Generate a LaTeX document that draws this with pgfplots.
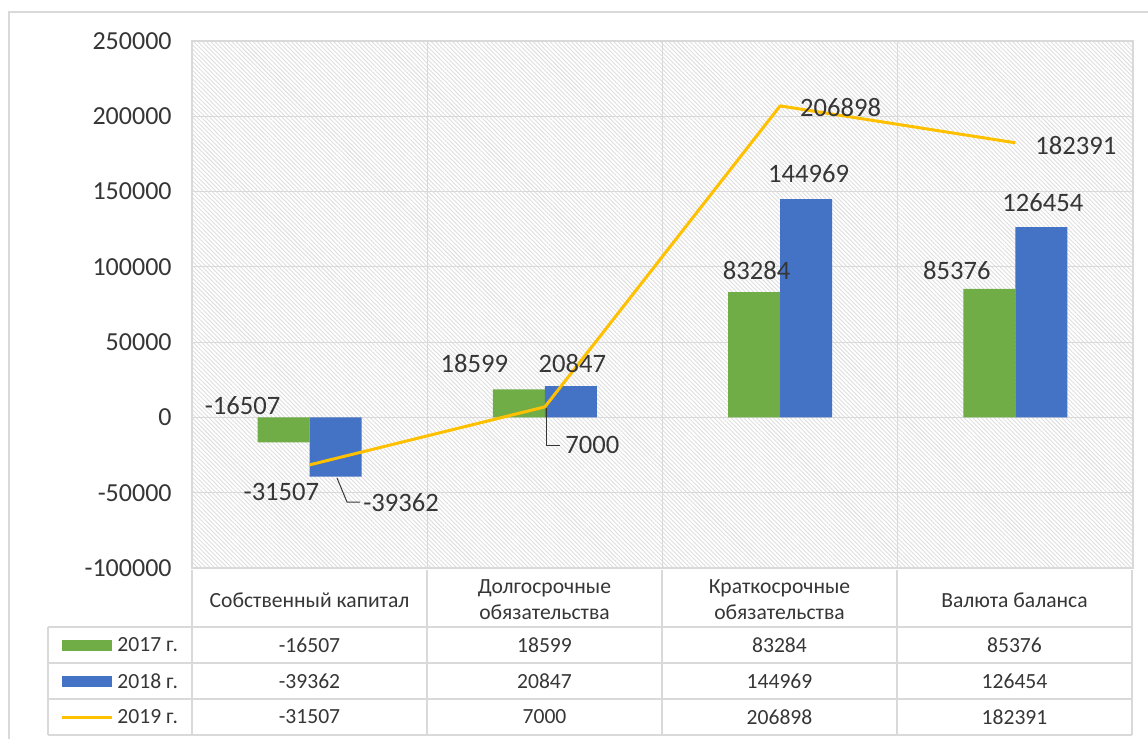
\documentclass[border=0pt]{standalone}
\usepackage{pgfplots}
\pgfplotsset{compat=1.18}
\usepackage{fontspec}
\setmainfont{Carlito}
\usetikzlibrary{patterns.meta}
\definecolor{cgreen}{HTML}{70AD47}
\definecolor{cblue}{HTML}{4472C4}
\definecolor{cyellow}{HTML}{FFC000}
\definecolor{cgrid}{HTML}{D9D9D9}
\definecolor{ctext}{HTML}{363636}
\definecolor{chatch}{HTML}{DEDEDE}
\tikzset{lbl/.style={font=\fontsize{13.3}{15}\selectfont, text=ctext}}
\begin{document}
\begin{tikzpicture}
\path[use as bounding box] (0,0) rectangle (574pt,-369.5pt);
\begin{axis}[
  at={(96pt,-284pt)}, anchor=south west,
  width=470.5pt, height=263.5pt, scale only axis,
  xmin=-0.5, xmax=3.5, ymin=-100000, ymax=250000,
  ytick={-100000,-50000,0,50000,100000,150000,200000,250000},
  scaled y ticks=false,
  xtick={0.5,1.5,2.5}, xticklabels={},
  major tick length=0pt,
  xmajorgrids, ymajorgrids,
  grid style={cgrid, line width=0.6pt},
  axis line style={cgrid, line width=0.6pt},
  axis background/.style={pattern={Lines[angle=-45,distance=1.5pt,line width=0.45pt]}, pattern color=chatch},
  /pgf/number format/assume math mode=true,
  /pgf/number format/1000 sep={},
  /pgf/number format/fixed, /pgf/number format/precision=0,
  yticklabel style={font=\fontsize{13}{15}\selectfont, text=ctext, anchor=east, inner sep=0pt, xshift=-10pt},
]
\addplot[ybar, bar width=26pt, bar shift=-13pt, fill=cgreen, draw=none]
  coordinates {(0,-16507) (1,18599) (2,83284) (3,85376)};
\addplot[ybar, bar width=26pt, bar shift=13pt, fill=cblue, draw=none]
  coordinates {(0,-39362) (1,20847) (2,144969) (3,126454)};
\addplot[sharp plot, no markers, cyellow, line width=1.5pt, line join=round]
  coordinates {(0,-31507) (1,7000) (2,206898) (3,182391)};
\node[lbl] at (axis cs:-0.285,8100) {-16507};
\node[lbl] at (axis cs:-0.12,-49630) {-31507};
\node[lbl] at (axis cs:0.389,-56260) {-39362};
\node[lbl] at (axis cs:0.700,35960) {18599};
\node[lbl] at (axis cs:1.117,35960) {20847};
\node[lbl] at (axis cs:1.202,-18450) {7000};
\node[lbl] at (axis cs:1.900,97670) {83284};
\node[lbl] at (axis cs:2.121,162030) {144969};
\node[lbl] at (axis cs:2.257,205820) {206898};
\node[lbl] at (axis cs:2.751,97670) {85376};
\node[lbl] at (axis cs:3.117,142790) {126454};
\node[lbl] at (axis cs:3.257,180600) {182391};
\end{axis}
\begin{scope}[x=0.5pt, y=-0.5pt]
  % outer chart border
  \draw[cgrid, line width=0.75pt] (9,739) -- (9,12) -- (1148,12);
  % leader lines
  \draw[ctext, line width=0.5pt] (337,478) -- (347,502) -- (360,502);
  \draw[ctext, line width=0.5pt] (546,408) -- (546,445) -- (560,445);
  % table grid
  \foreach \xx in {192,427,662,897,1132} \draw[cgrid, line width=0.75pt] (\xx,570) -- (\xx,735);
  \draw[cgrid, line width=0.75pt] (48,627) -- (48,735);
  \foreach \yy in {627,663,699,735} \draw[cgrid, line width=0.75pt] (48,\yy) -- (1132,\yy);
  \begin{scope}[every node/.style={font=\fontsize{10.8}{13}\selectfont, text=ctext}]
    \node at (309.5,600) {Собственный капитал};
    \node[align=center] at (544.5,600) {Долгосрочные\\обязательства};
    \node[align=center] at (779.5,600) {Краткосрочные\\обязательства};
    \node at (1014.5,600) {Валюта баланса};
    % legend keys
    \fill[cgreen] (62,640) rectangle (112,651);
    \fill[cblue] (62,676) rectangle (112,687);
    \draw[cyellow, line width=1.5pt] (62,717) -- (112,717);
    \node[anchor=west, inner sep=0pt] at (117,645) {2017 г.};
    \node[anchor=west, inner sep=0pt] at (117,681) {2018 г.};
    \node[anchor=west, inner sep=0pt] at (117,717) {2019 г.};
    % values
    \node at (309.5,645) {-16507};
    \node at (544.5,645) {18599};
    \node at (779.5,645) {83284};
    \node at (1014.5,645) {85376};
    \node at (309.5,681) {-39362};
    \node at (544.5,681) {20847};
    \node at (779.5,681) {144969};
    \node at (1014.5,681) {126454};
    \node at (309.5,717) {-31507};
    \node at (544.5,717) {7000};
    \node at (779.5,717) {206898};
    \node at (1014.5,717) {182391};
  \end{scope}
\end{scope}
\end{tikzpicture}
\end{document}
